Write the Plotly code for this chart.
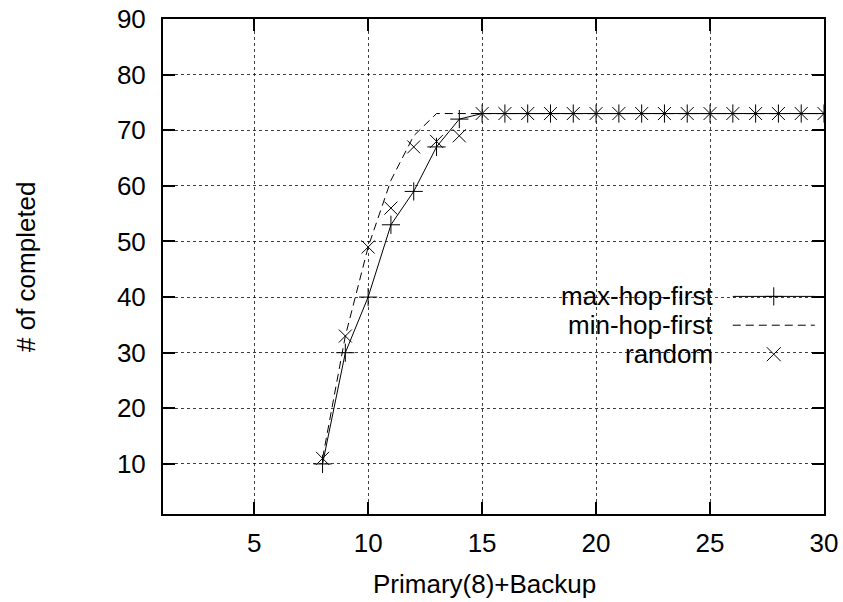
import plotly.graph_objects as go

# ---- data ----
backup = [8, 9, 10, 11, 12, 13, 14, 15, 16, 17, 18, 19, 20, 21, 22, 23, 24, 25, 26, 27, 28, 29, 30]
max_hop_first = [10, 30, 40, 53, 59, 67, 72, 73, 73, 73, 73, 73, 73, 73, 73, 73, 73, 73, 73, 73, 73, 73, 73]
min_hop_first = [11, 33, 49, 61, 69, 73, 73, 73, 73, 73, 73, 73, 73, 73, 73, 73, 73, 73, 73, 73, 73, 73, 73]
random_sel = [11, 33, 49, 56, 67, 68, 69, 73, 73, 73, 73, 73, 73, 73, 73, 73, 73, 73, 73, 73, 73, 73, 73]
series_names = ["max-hop-first", "min-hop-first", "random"]
x_ticks = [5, 10, 15, 20, 25, 30]
y_ticks = [10, 20, 30, 40, 50, 60, 70, 80, 90]

FONT = "Liberation Sans, Arial, Helvetica, sans-serif"
FS = 26

fig = go.Figure()

fig.add_trace(go.Scatter(x=backup, y=max_hop_first, mode="lines+markers",
                         line=dict(color="black", width=1),
                         marker=dict(symbol="cross-thin", size=13,
                                     line=dict(color="black", width=1)),
                         showlegend=False))
fig.add_trace(go.Scatter(x=backup, y=min_hop_first, mode="lines",
                         line=dict(color="black", width=1, dash="8px,5px"),
                         showlegend=False))
fig.add_trace(go.Scatter(x=backup, y=random_sel, mode="markers",
                         marker=dict(symbol="x-thin", size=13,
                                     line=dict(color="black", width=1)),
                         showlegend=False))

# ---- gnuplot-style key (drawn on an overlay axis in [0,1]) ----
row_y = [0.4396, 0.3814, 0.3228]
sx0, sxm, sx1 = 0.862, 0.924, 0.986
fig.add_trace(go.Scatter(x=[sx0, sx1], y=[row_y[0]] * 2, mode="lines",
                         line=dict(color="black", width=1),
                         xaxis="x2", yaxis="y2", showlegend=False, hoverinfo="skip"))
fig.add_trace(go.Scatter(x=[sxm], y=[row_y[0]], mode="markers",
                         marker=dict(symbol="cross-thin", size=13,
                                     line=dict(color="black", width=1)),
                         xaxis="x2", yaxis="y2", showlegend=False, hoverinfo="skip"))
fig.add_trace(go.Scatter(x=[sx0, sx1], y=[row_y[1]] * 2, mode="lines",
                         line=dict(color="black", width=1, dash="8px,5px"),
                         xaxis="x2", yaxis="y2", showlegend=False, hoverinfo="skip"))
fig.add_trace(go.Scatter(x=[sxm], y=[row_y[2]], mode="markers",
                         marker=dict(symbol="x-thin", size=14,
                                     line=dict(color="black", width=1)),
                         xaxis="x2", yaxis="y2", showlegend=False, hoverinfo="skip"))

annotations = []
for name, yy in zip(series_names, row_y):
    annotations.append(dict(text=name, xref="paper", yref="paper", x=0.8348, y=yy,
                            xanchor="right", yanchor="middle", showarrow=False,
                            font=dict(family=FONT, size=FS, color="black")))
annotations.append(dict(text="Primary(8)+Backup", xref="paper", yref="paper",
                        x=0.487, y=-0.141, xanchor="center", yanchor="middle",
                        showarrow=False, font=dict(family=FONT, size=FS, color="black")))
annotations.append(dict(text="# of completed", xref="paper", yref="paper",
                        x=-0.208, y=0.5, xanchor="center", yanchor="middle", textangle=-90,
                        showarrow=False, font=dict(family=FONT, size=FS, color="black")))

grid_kw = dict(showgrid=True, gridcolor="rgba(0,0,0,0.75)", gridwidth=1, griddash="dot")
axis_kw = dict(showline=True, linecolor="black", linewidth=2, mirror="allticks",
               ticks="inside", ticklen=12, tickwidth=2, tickcolor="black",
               zeroline=False, automargin=False,
               tickfont=dict(family=FONT, size=FS, color="black"))

fig.update_layout(
    width=843, height=602,
    margin=dict(l=163, r=19, t=19, b=88),
    paper_bgcolor="white", plot_bgcolor="white",
    xaxis=dict(range=[1, 30], tickvals=x_ticks, ticktext=[str(v) for v in x_ticks],
               ticklabelstandoff=5, **grid_kw, **axis_kw),
    yaxis=dict(range=[1, 90], tickvals=y_ticks, ticktext=[str(v) for v in y_ticks],
               ticklabelstandoff=10, **grid_kw, **axis_kw),
    xaxis2=dict(range=[0, 1], overlaying="x", visible=False, fixedrange=True),
    yaxis2=dict(range=[0, 1], overlaying="y", visible=False, fixedrange=True),
    shapes=[dict(type="rect", xref="paper", yref="paper", x0=0.499, x1=0.998,
                 y0=0.2855, y1=0.473, fillcolor="white", line=dict(width=0),
                 layer="between")],
    annotations=annotations,
    font=dict(family=FONT, size=FS, color="black"),
)

fig.write_html("out.html")
